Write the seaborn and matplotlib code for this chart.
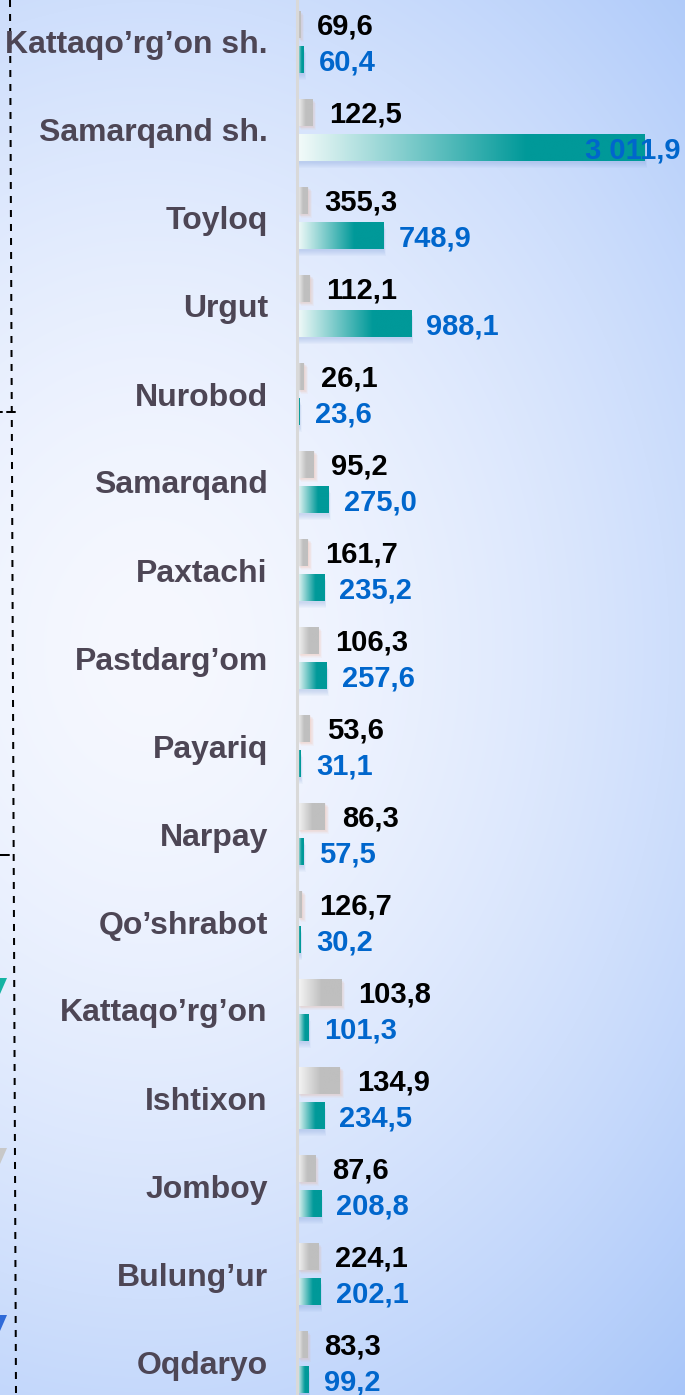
import numpy as np
import pandas as pd
import matplotlib
matplotlib.use("Agg")
import matplotlib.pyplot as plt
import matplotlib.transforms as mtransforms
from matplotlib.colors import LinearSegmentedColormap, to_rgb
from matplotlib.patches import Rectangle, Polygon
import seaborn as sns

sns.set_style("white")
plt.rcParams["font.family"] = ["Liberation Sans", "DejaVu Sans"]

# %% data
districts = ["Kattaqo’rg’on sh.", "Samarqand sh.", "Toyloq", "Urgut", "Nurobod",
             "Samarqand", "Paxtachi", "Pastdarg’om", "Payariq", "Narpay",
             "Qo’shrabot", "Kattaqo’rg’on", "Ishtixon", "Jomboy", "Bulung’ur", "Oqdaryo"]
gray_values = [69.6, 122.5, 355.3, 112.1, 26.1, 95.2, 161.7, 106.3,
               53.6, 86.3, 126.7, 103.8, 134.9, 87.6, 224.1, 83.3]
teal_values = [60.4, 3011.9, 748.9, 988.1, 23.6, 275.0, 235.2, 257.6,
               31.1, 57.5, 30.2, 101.3, 234.5, 208.8, 202.1, 99.2]
# grey bars do not follow their labels - lengths (teal scale)
gray_lengths = [26, 130, 95, 112, 60, 147, 95, 182, 112, 242, 43, 381, 372, 156, 182, 87]

df = pd.DataFrame({
    "district": districts * 2,
    "series": ["gray"] * len(districts) + ["teal"] * len(districts),
    "length": gray_lengths + teal_values,
})

W, H = 685, 1395
fig = plt.figure(figsize=(W / 100, H / 100), dpi=100)

# %% background gradient + left-hand decorations
bg = fig.add_axes([0, 0, 1, 1], zorder=-5)
yy, xx = np.mgrid[0:H, 0:W]
d = np.clip(np.sqrt(((xx - 150) / 800) ** 2 + ((yy - 650) / 1000) ** 2), 0, 1) ** 1.6
c0, c1 = np.array(to_rgb("#f6f8ff")), np.array(to_rgb("#a8c6f9"))
bg.imshow(c0 + (c1 - c0) * d[..., None], extent=(0, W, H, 0), aspect="auto")
dash = dict(color="black", lw=1.45, dashes=(7 * 0.72 / 1.45, 7 * 0.72 / 1.45))
bg.plot([10, 16], [0, H], **dash)
bg.plot([7, 15], [412, 412], color="black", lw=1.45)
bg.plot([0, 2], [412, 412], color="black", lw=1.45)
bg.plot([0, 9], [855, 855], color="black", lw=1.45)
for ytop, col in [(978, "#14b3a3"), (1148, "#c8c8c8"), (1315, "#2f6ad8")]:
    bg.add_patch(Polygon([(0, ytop), (7, ytop), (0, ytop + 16)], closed=True, color=col, lw=0))
bg.set_xlim(0, W)
bg.set_ylim(H, 0)
bg.axis("off")

# %% bars
ax = fig.add_axes([297 / W, 0, (W - 297) / W, 1])
ax.set_facecolor("none")
sns.barplot(data=df, y="district", x="length", hue="series", order=districts,
            hue_order=["gray", "teal"], palette={"gray": "#bfbfbf", "teal": "#009999"},
            width=0.818, gap=0.25, orient="h", saturation=1, errorbar=None,
            legend=False, ax=ax)

xmax = 3011.9 * 388 / 348
ylim = ((H - 42) / 88, -42 / 88)

gray_cmap = LinearSegmentedColormap.from_list("g", [(0, "#f8f8f8"), (0.55, "#bfbfbf"), (1, "#bfbfbf")])
teal_cmap = LinearSegmentedColormap.from_list("t", [(0, "#f4fbfa"), (0.66, "#009999"), (1, "#009999")])
grad = np.linspace(0, 1, 256).reshape(1, -1)


def shadow(bar, dx, dy, color, layers=6, alpha=0.06):
    # soft glow: several offset copies, each faint
    for k in range(1, layers + 1):
        off = mtransforms.ScaledTranslation(dx * k / layers / 100, -dy * k / layers / 100,
                                            fig.dpi_scale_trans)
        ax.add_patch(Rectangle((bar.get_x(), bar.get_y()), bar.get_width(), bar.get_height(),
                               transform=ax.transData + off, color=color, alpha=alpha,
                               lw=0, zorder=0.5))


for cont, cmap, shade in zip(ax.containers, [gray_cmap, teal_cmap],
                              [(4, 4, "#f0a47c"), (2, 7, "#7f9fd8")]):
    for bar in cont:
        x0, y0, w, h = bar.get_x(), bar.get_y(), bar.get_width(), bar.get_height()
        shadow(bar, *shade)
        ax.imshow(grad, cmap=cmap, extent=(x0, x0 + w, y0 + h, y0), aspect="auto",
                  interpolation="bicubic", zorder=1)
        bar.set_facecolor("none")
        bar.set_edgecolor("none")

ax.set_xlim(0, xmax)
ax.set_ylim(*ylim)


def fmt(v):
    return f"{v:,.1f}".replace(",", " ").replace(".", ",")


label_kw = dict(textcoords="offset points", va="center", fontsize=21, fontweight="bold")
for bar, v in zip(ax.containers[0], gray_values):
    ax.annotate(fmt(v), (bar.get_x() + bar.get_width(), bar.get_y() + bar.get_height() / 2),
                xytext=(12, -1.5), ha="left", color="black", **label_kw)

renderer = fig.canvas.get_renderer()
for bar, v in zip(ax.containers[1], teal_values):
    yc = bar.get_y() + bar.get_height() / 2
    t = ax.annotate(fmt(v), (bar.get_x() + bar.get_width(), yc),
                    xytext=(11, -1.5), ha="left", color="#0066cc", **label_kw)
    if t.get_window_extent(renderer).x1 > W:
        t.remove()
        ax.annotate(fmt(v), (1, yc), xycoords=ax.get_yaxis_transform(),
                    xytext=(-3, -1.5), ha="right", color="#0066cc", **label_kw)

ax.set_xlabel("")
ax.set_ylabel("")
ax.set_xticks([])
ax.tick_params(axis="y", length=0, pad=21, labelsize=23, labelcolor="#4d4655")
for lbl in ax.get_yticklabels():
    lbl.set_fontweight("bold")
for side in ["top", "right", "bottom"]:
    ax.spines[side].set_visible(False)
ax.spines["left"].set_color("#d9d9d9")
ax.spines["left"].set_linewidth(2.2)

fig.savefig("out.png", dpi=100)
